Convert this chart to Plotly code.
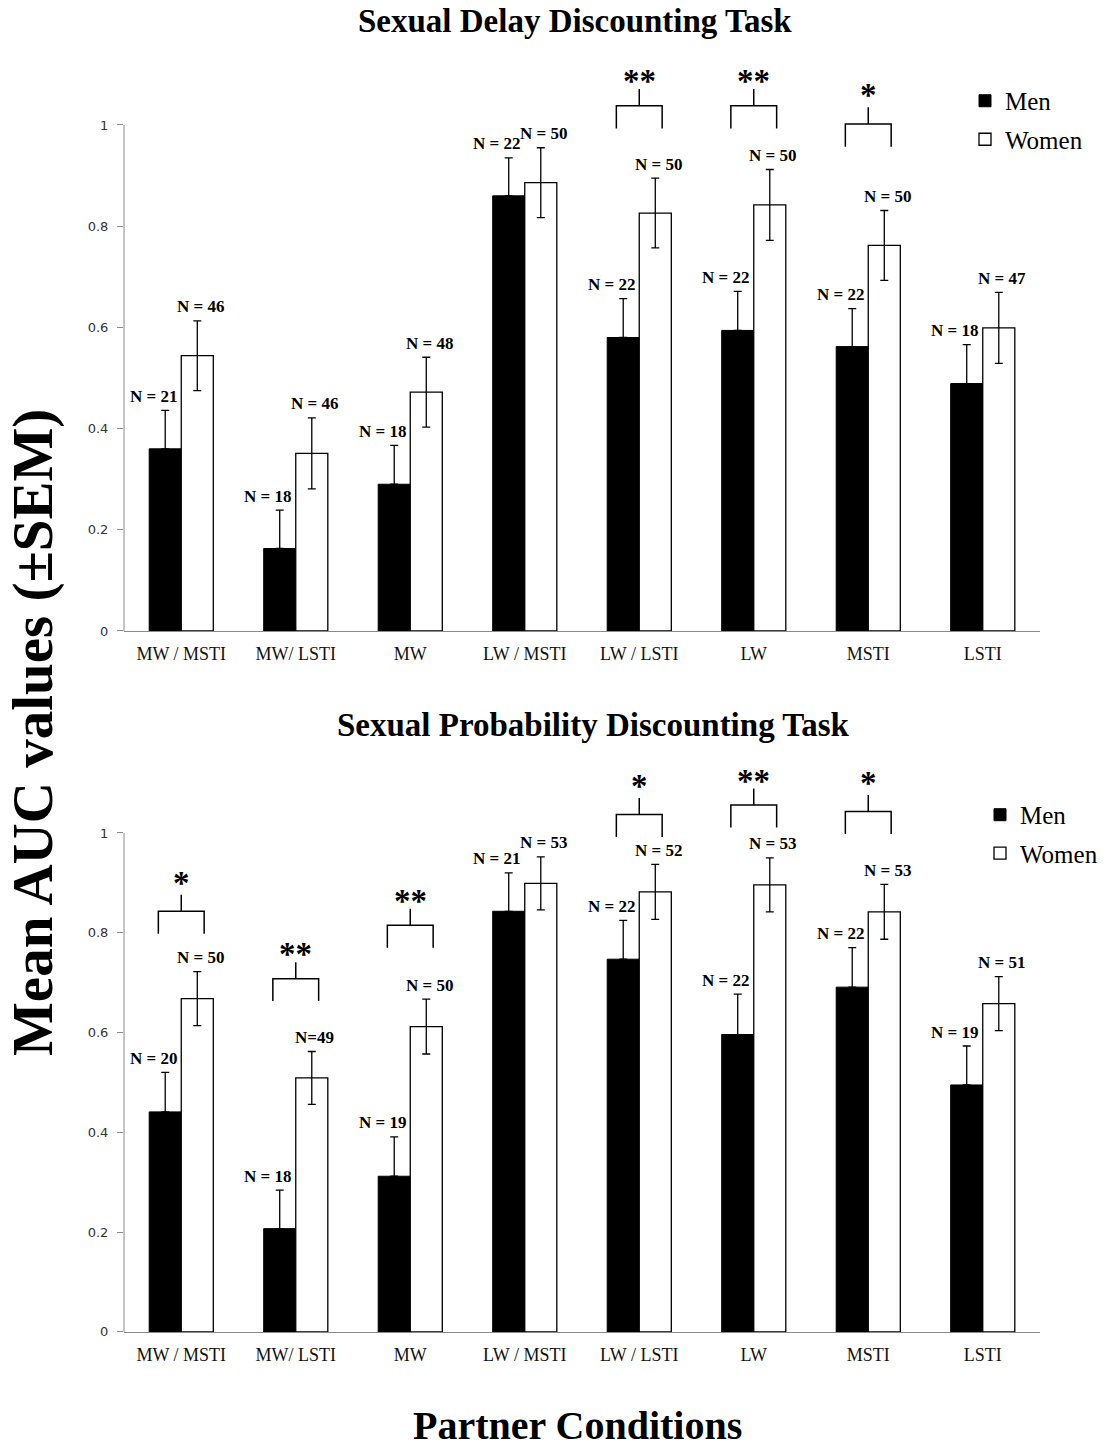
import plotly.graph_objects as go

# ---------------- data ----------------
categories = ["MW / MSTI", "MW/ LSTI", "MW", "LW / MSTI", "LW / LSTI", "LW", "MSTI", "LSTI"]

# Sexual Delay Discounting Task
delay_men = [0.360, 0.163, 0.290, 0.860, 0.580, 0.594, 0.562, 0.489]
delay_men_sem = [0.076, 0.076, 0.077, 0.075, 0.077, 0.077, 0.075, 0.077]
delay_women = [0.544, 0.351, 0.472, 0.886, 0.826, 0.842, 0.762, 0.599]
delay_women_sem = [0.069, 0.070, 0.069, 0.069, 0.069, 0.070, 0.069, 0.070]
delay_men_n = ["N = 21", "N = 18", "N = 18", "N = 22", "N = 22", "N = 22", "N = 22", "N = 18"]
delay_women_n = ["N = 46", "N = 46", "N = 48", "N = 50", "N = 50", "N = 50", "N = 50", "N = 47"]
# significance: (category index, stars, bracket height)
delay_sig = [(4, "**", 1.038), (5, "**", 1.038), (6, "*", 1.002)]

# Sexual Probability Discounting Task
prob_men = [0.441, 0.207, 0.312, 0.843, 0.747, 0.596, 0.691, 0.495]
prob_men_sem = [0.079, 0.077, 0.079, 0.077, 0.078, 0.081, 0.079, 0.078]
prob_women = [0.668, 0.509, 0.612, 0.899, 0.882, 0.896, 0.842, 0.658]
prob_women_sem = [0.054, 0.053, 0.055, 0.053, 0.055, 0.054, 0.055, 0.054]
prob_men_n = ["N = 20", "N = 18", "N = 19", "N = 21", "N = 22", "N = 22", "N = 22", "N = 19"]
prob_women_n = ["N = 50", "N=49", "N = 50", "N = 53", "N = 52", "N = 53", "N = 53", "N = 51"]
prob_sig = [(0, "*", 0.843), (1, "**", 0.708), (2, "**", 0.815),
            (4, "*", 1.037), (5, "**", 1.056), (6, "*", 1.043)]

y_ticks = [0, 0.2, 0.4, 0.6, 0.8, 1]
y_ticktext = ["0", "0.2", "0.4", "0.6", "0.8", "1"]

# ---------------- style ----------------
SERIF = "Liberation Serif, Times New Roman, serif"
SANS = "DejaVu Sans, Verdana, sans-serif"
AXIS_GRAY = "#8a8a8a"
W_PX, H_PX = 1112, 1448
V_CORR = 1.0055   # small vertical calibration of pixel placements


def px_x(v):
    return v / W_PX


def px_y(v):
    return 1 - v * V_CORR / H_PX


x_idx = list(range(len(categories)))
fig = go.Figure()
annotations = []
shapes = []


def add_panel(xa, ya, legend, men, men_sem, women, women_sem, men_n, women_n, sig):
    fig.add_bar(
        x=x_idx, y=men, name="Men", xaxis=xa, yaxis=ya, legend=legend,
        legendgroup="men" + legend,
        marker=dict(color="black", line=dict(color="black", width=1)),
        error_y=dict(type="data", symmetric=False, array=men_sem,
                     arrayminus=[0] * len(men), color="black", thickness=1.3, width=4),
    )
    fig.add_bar(
        x=x_idx, y=women, name="Women", xaxis=xa, yaxis=ya, legend=legend,
        legendgroup="women" + legend,
        marker=dict(color="white", line=dict(color="black", width=1.3)),
        error_y=dict(type="data", array=women_sem, color="black", thickness=1.3, width=4),
    )
    for i in x_idx:
        annotations.append(dict(
            x=i - 0.14, y=men[i] + men_sem[i], xref=xa, yref=ya, text="<b>%s</b>" % men_n[i],
            showarrow=False, xshift=-12, yshift=14, yanchor="middle",
            font=dict(family=SERIF, size=17, color="black")))
        annotations.append(dict(
            x=i + 0.14, y=women[i] + women_sem[i], xref=xa, yref=ya, text="<b>%s</b>" % women_n[i],
            showarrow=False, xshift=3, yshift=14, yanchor="middle",
            font=dict(family=SERIF, size=17, color="black")))
    for (ci, stars, level) in sig:
        x0, x1 = ci - 0.2, ci + 0.2
        low = level - 0.045
        top = level + 0.033
        path = "M %f,%f L %f,%f L %f,%f L %f,%f M %f,%f L %f,%f" % (
            x0, low, x0, level, x1, level, x1, low, ci, level, ci, top)
        shapes.append(dict(type="path", path=path, xref=xa, yref=ya,
                           line=dict(color="black", width=1.5)))
        annotations.append(dict(
            x=ci, y=top, xref=xa, yref=ya, text="<b>%s</b>" % stars, showarrow=False,
            yanchor="bottom", yshift=-12 if len(stars) == 2 else -8,
            font=dict(family=SERIF, size=33, color="black")))
    # y axis line only from 0 to 1
    shapes.append(dict(type="line", xref=xa + " domain", yref=ya, x0=0, x1=0, y0=0, y1=1,
                       line=dict(color=AXIS_GRAY, width=1)))


add_panel("x", "y", "legend", delay_men, delay_men_sem, delay_women, delay_women_sem,
          delay_men_n, delay_women_n, delay_sig)
add_panel("x2", "y2", "legend2", prob_men, prob_men_sem, prob_women, prob_women_sem,
          prob_men_n, prob_women_n, prob_sig)

x_dom = [px_x(124), px_x(1040)]
top_dom = [px_y(631), px_y(49.1)]
bot_dom = [px_y(1332), px_y(758.15)]

xaxis_common = dict(
    range=[-0.5, len(categories) - 0.5], tickvals=x_idx, ticktext=categories,
    showline=True, linecolor=AXIS_GRAY, linewidth=1, ticks="", showgrid=False,
    zeroline=False, tickfont=dict(family=SERIF, size=18, color="#111"),
    ticklabelstandoff=6, fixedrange=True,
)
yaxis_common = dict(
    range=[0, 1.15], tickvals=y_ticks, ticktext=y_ticktext, showline=False,
    ticks="outside", ticklen=6, tickcolor=AXIS_GRAY, tickwidth=1, showgrid=False,
    zeroline=False, tickfont=dict(family=SANS, size=13, color="#333"),
    ticklabelstandoff=6, fixedrange=True,
)

legend_common = dict(xanchor="left", yanchor="top",
                     font=dict(family=SERIF, size=25, color="black"), bgcolor="rgba(0,0,0,0)",
                     traceorder="grouped", tracegroupgap=3, itemwidth=30)

fig.update_layout(
    width=W_PX, height=H_PX,
    margin=dict(l=0, r=0, t=0, b=0),
    paper_bgcolor="white", plot_bgcolor="rgba(0,0,0,0)",
    barmode="group", bargap=0.44, bargroupgap=0,
    xaxis=dict(domain=x_dom, anchor="y", **xaxis_common),
    yaxis=dict(domain=top_dom, anchor="x", **yaxis_common),
    xaxis2=dict(domain=x_dom, anchor="y2", **xaxis_common),
    yaxis2=dict(domain=bot_dom, anchor="x2", **yaxis_common),
    legend=dict(x=px_x(965), y=px_y(78), **legend_common),
    legend2=dict(x=px_x(980), y=px_y(792), **legend_common),
    showlegend=True,
    hovermode=False,
)

annotations += [
    dict(text="<b>Sexual Delay Discounting Task</b>", x=px_x(575), y=px_y(21),
         xref="paper", yref="paper", showarrow=False, xanchor="center", yanchor="middle",
         font=dict(family=SERIF, size=33, color="black")),
    dict(text="<b>Sexual Probability Discounting Task</b>", x=px_x(593), y=px_y(725),
         xref="paper", yref="paper", showarrow=False, xanchor="center", yanchor="middle",
         font=dict(family=SERIF, size=33, color="black")),
    dict(text="<b>Partner Conditions</b>", x=px_x(577), y=px_y(1426),
         xref="paper", yref="paper", showarrow=False, xanchor="center", yanchor="middle",
         font=dict(family=SERIF, size=40, color="black")),
    dict(text="<b>Mean AUC values (±SEM)</b>", x=px_x(33), y=px_y(733),
         xref="paper", yref="paper", showarrow=False, xanchor="center", yanchor="middle",
         textangle=-90, font=dict(family=SERIF, size=57, color="black")),
]
fig.update_layout(annotations=annotations, shapes=shapes)

fig.write_html(
    "out.html",
    config={"displayModeBar": False, "staticPlot": True},
    post_script=("document.body.style.margin='0';"
                 "document.body.style.overflow='hidden';"
                 "document.documentElement.style.overflow='hidden';"),
)
